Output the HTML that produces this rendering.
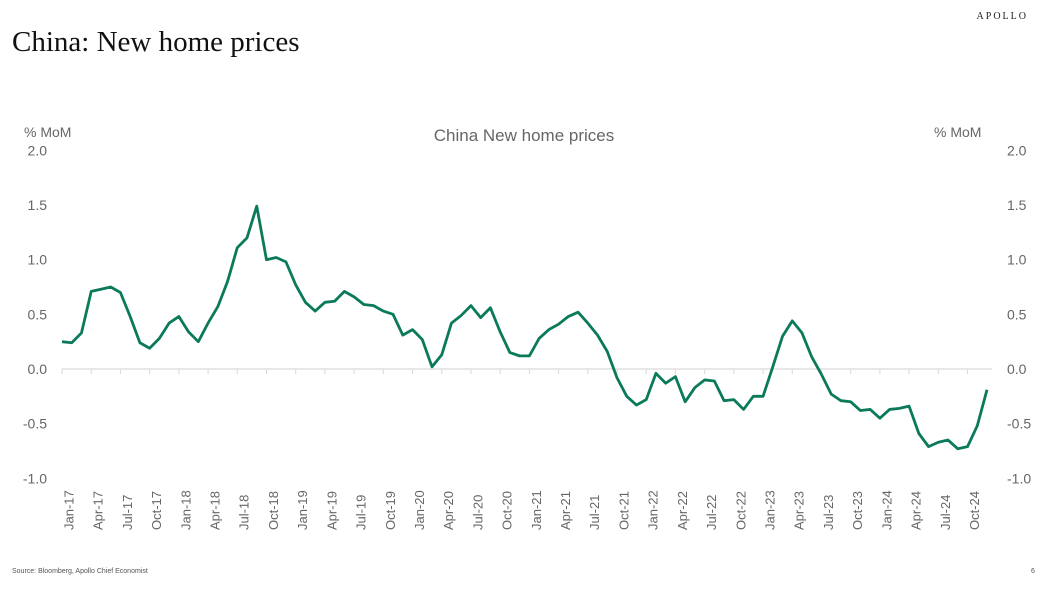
<!DOCTYPE html>
<html><head><meta charset="utf-8"><style>
body{margin:0;width:1040px;height:589px;background:#fff;overflow:hidden;position:relative;font-family:"Liberation Sans",sans-serif}
.t{position:absolute}
</style></head><body>
<div class="t" style="right:12px;top:11px;font-family:'Liberation Serif',serif;font-size:10px;letter-spacing:2px;color:#222">APOLLO</div>
<div class="t" style="left:12px;top:26px;font-family:'Liberation Serif',serif;font-size:29px;color:#111">China: New home prices</div>
<div class="t" style="left:12px;top:568px;font-size:7px;color:#555">Source: Bloomberg, Apollo Chief Economist</div>
<div class="t" style="left:1031px;top:568px;font-size:7px;color:#555">6</div>
<svg id="c" width="1040" height="589" style="position:absolute;left:0;top:0"></svg>
<script>
const months=['Jan','Feb','Mar','Apr','May','Jun','Jul','Aug','Sep','Oct','Nov','Dec'];
const years=[17,18,19,20,21,22,23,24];
const values=[
0.25,0.24,0.33,0.71,0.73,0.75,0.70,0.48,0.24,0.19,0.28,0.42,
0.48,0.34,0.25,0.42,0.57,0.80,1.11,1.20,1.49,1.00,1.02,0.98,
0.77,0.61,0.53,0.61,0.62,0.71,0.66,0.59,0.58,0.53,0.50,0.31,
0.36,0.27,0.02,0.13,0.42,0.49,0.58,0.47,0.56,0.34,0.15,0.12,
0.12,0.28,0.36,0.41,0.48,0.52,0.42,0.31,0.16,-0.08,-0.25,-0.33,
-0.28,-0.04,-0.13,-0.07,-0.30,-0.17,-0.10,-0.11,-0.29,-0.28,-0.37,-0.25,
-0.25,0.02,0.30,0.44,0.33,0.11,-0.05,-0.23,-0.29,-0.30,-0.38,-0.37,
-0.45,-0.37,-0.36,-0.34,-0.59,-0.71,-0.67,-0.65,-0.73,-0.71,-0.52,-0.19];
const yTicks=[2.0,1.5,1.0,0.5,0.0,-0.5,-1.0];
const categories=[];years.forEach(y=>months.forEach(m=>categories.push(m+'-'+y)));
const NS='http://www.w3.org/2000/svg',svg=document.getElementById('c');
const x0=62,x1=987,n=categories.length;
const X=i=>x0+(x1-x0)*i/(n-1);
const Y=v=>369-v*109.3;
function mk(t,a,txt){const e=document.createElementNS(NS,t);for(const k in a)e.setAttribute(k,a[k]);if(txt!=null)e.textContent=txt;svg.appendChild(e);return e;}
let e=mk('line',{x1:x0,x2:992,y1:Y(0),y2:Y(0),stroke:'#d9d9d9','stroke-width':1.3});

for(let i=0;i<n;i+=3){
 e=mk('line',{x1:X(i),x2:X(i),y1:Y(0),y2:Y(0)+5,stroke:'#d9d9d9','stroke-width':1});
 
 const lx=X(i)+8,ly=530;
 e=mk('text',{x:lx,y:ly,transform:`rotate(-90 ${lx} ${ly})`,'font-size':13,fill:'#666','dominant-baseline':'middle'},categories[i]);
 
}
yTicks.forEach(v=>{
 e=mk('text',{x:47,y:Y(v)+5,'font-size':14,fill:'#666','text-anchor':'end'},v.toFixed(1));
 
 e=mk('text',{x:1007,y:Y(v)+5,'font-size':14,fill:'#666'},v.toFixed(1));
 
});
e=mk('text',{x:24,y:137,'font-size':14,fill:'#666'},'% MoM');

e=mk('text',{x:934,y:137,'font-size':14,fill:'#666'},'% MoM');

e=mk('text',{x:524,y:141,'font-size':17,fill:'#666','text-anchor':'middle'},'China New home prices');

e=mk('polyline',{points:values.map((v,i)=>X(i)+','+Y(v)).join(' '),fill:'none',stroke:'#0b7a5b','stroke-width':2.8,'stroke-linejoin':'round'});

</script>
</body></html>
